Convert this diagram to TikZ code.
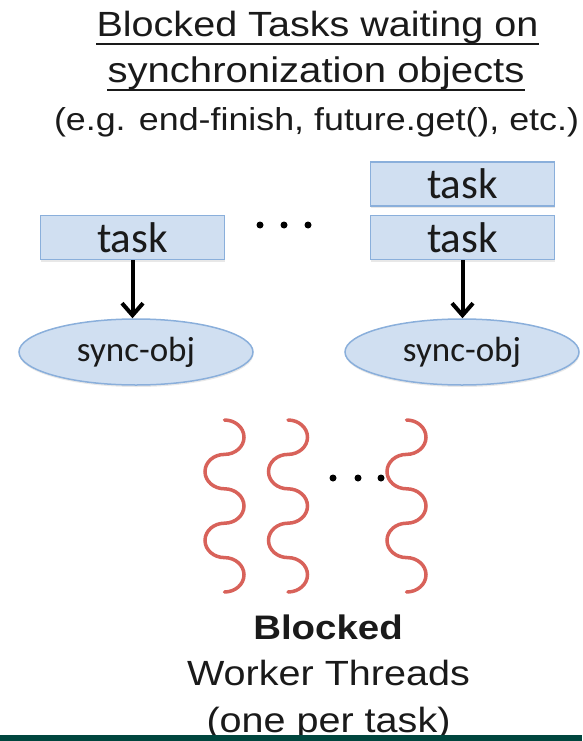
\documentclass[tikz,border=0pt]{standalone}
\usepackage{fontspec}
\setmainfont{Liberation Sans}[FakeStretch=1.13]
\newfontfamily\carlitofont{Carlito}
\usetikzlibrary{arrows.meta,shapes.geometric,shadows}
\definecolor{boxfill}{HTML}{D0DFF1}
\definecolor{boxline}{HTML}{8AAFDB}
\definecolor{wavecol}{HTML}{D8625A}
\definecolor{barcol}{HTML}{00463E}
\definecolor{txt}{HTML}{1A1A1A}
\begin{document}
\begin{tikzpicture}[x=1pt,y=-1pt,
  softshadow/.style={drop shadow={opacity=0.18,shadow xshift=0.5pt,shadow yshift=-2pt}},
  taskbox/.style={draw=boxline,line width=1.5pt,fill=boxfill,softshadow,minimum width=184pt,minimum height=44pt,inner sep=0pt,font=\carlitofont\fontsize{43}{45}\selectfont,text=txt},
  syncobj/.style={ellipse,draw=boxline,line width=1.5pt,fill=boxfill,softshadow,minimum width=234pt,minimum height=66pt,inner sep=0pt,font=\carlitofont\fontsize{35}{37}\selectfont,text=txt},
  waitarrow/.style={draw=black,line width=4pt,-{Straight Barb[length=12pt,width=21pt,line width=4pt]}},
  wave/.style={wavecol,line width=3.5pt,line cap=round},
  dot/.style={circle,fill=black,inner sep=0pt,minimum size=7pt},
  ttl/.style={inner sep=0pt,anchor=base,text=txt}]
\useasboundingbox (0,0) rectangle (582,741);
% titles
\node[ttl,font=\fontsize{35}{40}\selectfont] (t1) at (317.5,37) {Blocked Tasks waiting on};
\node[ttl,font=\fontsize{35.5}{40}\selectfont] (t2) at (316,83) {synchronization objects};
\node[ttl,font=\fontsize{31.7}{36}\selectfont] (t3) at (316.5,131) {(e.g. end-finish, future.get(), etc.)};
\draw[txt,line width=2pt] ([yshift=-7pt]t1.base west) -- ([yshift=-7pt]t1.base east);
\draw[txt,line width=2pt] ([yshift=-7pt]t2.base west) -- ([yshift=-7pt]t2.base east);
% tasks
\node[taskbox] (task1) at (132.5,237.5) {task};
\node[taskbox] (task2) at (462.5,184) {task};
\node[taskbox] (task3) at (462.5,237.5) {task};
\node[syncobj] (sync1) at (136,352) {sync-obj};
\node[syncobj] (sync2) at (462,352) {sync-obj};
\draw[waitarrow] (task1.south) -- (task1.south |- sync1.north);
\draw[waitarrow] (task3.south) -- (task3.south |- sync2.north);
\node[dot] (d1) at (260,225) {};
\node[dot] (d2) at (284,225) {};
\node[dot] (d3) at (308,225) {};
% waves
\foreach \cx in {224.5,288,406.5}{
  \draw[wave] (\cx,420)
    arc[start angle=90,end angle=-90,x radius=19.5pt,y radius=17.2pt]
    arc[start angle=90,end angle=270,x radius=19.5pt,y radius=17.2pt]
    arc[start angle=90,end angle=-90,x radius=19.5pt,y radius=17.2pt]
    arc[start angle=90,end angle=270,x radius=19.5pt,y radius=17.2pt]
    arc[start angle=90,end angle=-90,x radius=19.5pt,y radius=17.2pt];
}
\node[dot] (e1) at (333,478) {};
\node[dot] (e2) at (358,478) {};
\node[dot] (e3) at (381,478) {};
% bottom text
\node[ttl,font=\bfseries\fontsize{34}{40}\selectfont] (b1) at (328,639) {Blocked};
\node[ttl,font=\fontsize{35}{40}\selectfont] (b2) at (328.5,685) {Worker Threads};
\node[ttl,font=\fontsize{35}{40}\selectfont] (b3) at (328.5,732) {(one per task)};
\fill[barcol] (0,735) rectangle (582,741);
\end{tikzpicture}
\end{document}
